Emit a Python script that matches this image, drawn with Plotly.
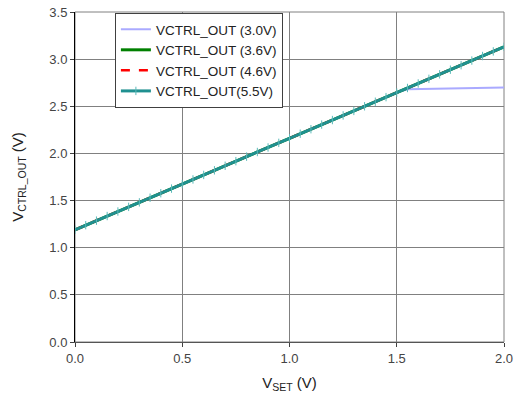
import plotly.graph_objects as go

# V_SET sweep (V)
v_set = [0.00, 0.05, 0.10, 0.15, 0.20, 0.25, 0.30, 0.35, 0.40, 0.45,
         0.50, 0.55, 0.60, 0.65, 0.70, 0.75, 0.80, 0.85, 0.90, 0.95,
         1.00, 1.05, 1.10, 1.15, 1.20, 1.25, 1.30, 1.35, 1.40, 1.45,
         1.50, 1.55, 1.60, 1.65, 1.70, 1.75, 1.80, 1.85, 1.90, 1.95, 2.00]

# VCTRL_OUT readings (V) at each supply voltage
vctrl_3v0 = [1.190, 1.239, 1.287, 1.336, 1.384, 1.433, 1.481, 1.530, 1.578, 1.627,
             1.675, 1.724, 1.772, 1.821, 1.869, 1.918, 1.966, 2.015, 2.063, 2.112,
             2.160, 2.209, 2.257, 2.306, 2.354, 2.403, 2.451, 2.500, 2.548, 2.597,
             2.645, 2.680, 2.682, 2.688, 2.690, 2.690, 2.697, 2.698, 2.699, 2.700, 2.700]
vctrl_3v6 = [1.190, 1.239, 1.287, 1.336, 1.384, 1.433, 1.481, 1.530, 1.578, 1.627,
             1.675, 1.724, 1.772, 1.821, 1.869, 1.918, 1.966, 2.015, 2.063, 2.112,
             2.160, 2.209, 2.257, 2.306, 2.354, 2.403, 2.451, 2.500, 2.548, 2.597,
             2.645, 2.694, 2.742, 2.791, 2.839, 2.888, 2.936, 2.985, 3.033, 3.082, 3.130]
vctrl_4v6 = [1.190, 1.239, 1.287, 1.336, 1.384, 1.433, 1.481, 1.530, 1.578, 1.627,
             1.675, 1.724, 1.772, 1.821, 1.869, 1.918, 1.966, 2.015, 2.063, 2.112,
             2.160, 2.209, 2.257, 2.306, 2.354, 2.403, 2.451, 2.500, 2.548, 2.597,
             2.645, 2.694, 2.742, 2.791, 2.839, 2.888, 2.936, 2.985, 3.033, 3.082, 3.130]
vctrl_5v5 = [1.190, 1.239, 1.287, 1.336, 1.384, 1.433, 1.481, 1.530, 1.578, 1.627,
             1.675, 1.724, 1.772, 1.821, 1.869, 1.918, 1.966, 2.015, 2.063, 2.112,
             2.160, 2.209, 2.257, 2.306, 2.354, 2.403, 2.451, 2.500, 2.548, 2.597,
             2.645, 2.694, 2.742, 2.791, 2.839, 2.888, 2.936, 2.985, 3.033, 3.082, 3.130]

series_names = ["VCTRL_OUT (3.0V)", "VCTRL_OUT (3.6V)", "VCTRL_OUT (4.6V)", "VCTRL_OUT(5.5V)"]

x_ticks = [0.0, 0.5, 1.0, 1.5, 2.0]
y_ticks = [0.0, 0.5, 1.0, 1.5, 2.0, 2.5, 3.0, 3.5]

FONT = "Liberation Sans"
GRID = "#808080"

fig = go.Figure()
fig.add_trace(go.Scatter(x=v_set, y=vctrl_3v0, name=series_names[0], mode="lines",
                         line=dict(color="#AAAAFF", width=2)))
fig.add_trace(go.Scatter(x=v_set, y=vctrl_3v6, name=series_names[1], mode="lines",
                         line=dict(color="#008000", width=3)))
fig.add_trace(go.Scatter(x=v_set, y=vctrl_4v6, name=series_names[2], mode="lines",
                         line=dict(color="#FF0000", width=2.5, dash="dash")))
fig.add_trace(go.Scatter(x=v_set, y=vctrl_5v5, name=series_names[3], mode="lines+markers",
                         line=dict(color="#1F9090", width=3),
                         marker=dict(symbol="line-ns", size=6,
                                     line=dict(color="#5BBABA", width=1))))

fig.update_layout(
    width=520, height=402,
    margin=dict(l=75, r=16, t=12, b=60),
    paper_bgcolor="white", plot_bgcolor="white",
    font=dict(family=FONT, size=13, color="#333333"),
    showlegend=True,
    legend=dict(x=0.093, y=0.997, xanchor="left", yanchor="top",
                bgcolor="white", bordercolor="#404040", borderwidth=1,
                font=dict(family=FONT, size=13.5, color="#222222"),
                tracegroupgap=0, itemwidth=30),
)

fig.update_xaxes(
    range=[0, 2.0], tickvals=x_ticks, ticktext=[f"{v:.1f}" for v in x_ticks],
    showgrid=True, gridcolor=GRID, gridwidth=1,
    showline=True, linecolor="#555555", linewidth=1, mirror=False,
    ticks="outside", ticklen=4, tickcolor="#404040",
    tickfont=dict(family=FONT, size=13, color="#444444"),
    zeroline=False, automargin=False,
    title=dict(text="V<sub>SET</sub> (V)", font=dict(family=FONT, size=15, color="#222222"),
               standoff=12),
)
fig.update_yaxes(
    range=[0, 3.5], tickvals=y_ticks, ticktext=[f"{v:.1f}" for v in y_ticks],
    showgrid=True, gridcolor=GRID, gridwidth=1,
    showline=True, linecolor="#000000", linewidth=1, mirror=False,
    ticks="outside", ticklen=4, tickcolor="#404040",
    tickfont=dict(family=FONT, size=13, color="#444444"),
    zeroline=False, automargin=False,
    title=dict(text="V<sub>CTRL_OUT</sub> (V)", font=dict(family=FONT, size=15, color="#222222"),
               standoff=22),
)

# top and right plot border in grey
fig.add_shape(type="rect", xref="paper", yref="paper", x0=0, y0=0, x1=1, y1=1,
              line=dict(color=GRID, width=1), layer="below")

fig.write_html("out.html")
